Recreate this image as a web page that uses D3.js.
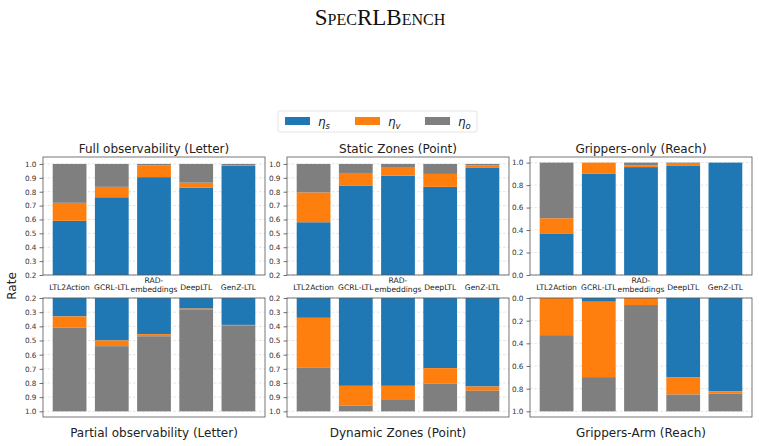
<!DOCTYPE html>
<html><head><meta charset="utf-8">
<script src="https://cdn.jsdelivr.net/npm/d3@7"></script>
<style>
body{margin:0;background:#fff;}
svg{display:block;}
</style></head>
<body>
<svg id="chart" width="759" height="446"></svg>
<script>
const categories = ["LTL2Action","GCRL-LTL","RAD-\nembeddings","DeepLTL","GenZ-LTL"];
const seriesNames = ["η_s","η_v","η_o"];
const seriesColors = ["#1f77b4","#ff7f0e","#7f7f7f"];

// Full observability (Letter)
const fullObsS = [0.59, 0.76, 0.905, 0.83, 0.985];
const fullObsV = [0.13, 0.075, 0.085, 0.035, 0.003];
const fullObsO = [0.28, 0.165, 0.01, 0.135, 0.012];
// Static Zones (Point)
const staticS = [0.58, 0.845, 0.915, 0.835, 0.975];
const staticV = [0.215, 0.09, 0.063, 0.093, 0.015];
const staticO = [0.205, 0.065, 0.022, 0.072, 0.01];
// Grippers-only (Reach)
const grippersS = [0.37, 0.90, 0.96, 0.975, 1.0];
const grippersV = [0.135, 0.10, 0.015, 0.015, 0.0];
const grippersO = [0.495, 0.0, 0.025, 0.01, 0.0];
// Partial observability (Letter)
const partialS = [0.33, 0.50, 0.455, 0.275, 0.39];
const partialV = [0.08, 0.04, 0.015, 0.005, 0.003];
const partialO = [0.59, 0.46, 0.53, 0.72, 0.607];
// Dynamic Zones (Point)
const dynamicS = [0.34, 0.82, 0.82, 0.695, 0.825];
const dynamicV = [0.35, 0.14, 0.10, 0.11, 0.03];
const dynamicO = [0.31, 0.04, 0.08, 0.195, 0.145];
// Grippers-Arm (Reach)
const armS = [0.0, 0.033, 0.0, 0.698, 0.822];
const armV = [0.328, 0.665, 0.062, 0.154, 0.021];
const armO = [0.672, 0.302, 0.938, 0.148, 0.157];

const ticksPoint1 = [0.2,0.3,0.4,0.5,0.6,0.7,0.8,0.9,1.0];
const ticksPoint2 = [0.0,0.2,0.4,0.6,0.8,1.0];

const panels = [
  {title:"Full observability (Letter)", s:fullObsS, v:fullObsV, o:fullObsO, col:0, row:0, dom:[0.2,1.05], ticks:ticksPoint1},
  {title:"Static Zones (Point)", s:staticS, v:staticV, o:staticO, col:1, row:0, dom:[0.2,1.05], ticks:ticksPoint1},
  {title:"Grippers-only (Reach)", s:grippersS, v:grippersV, o:grippersO, col:2, row:0, dom:[0.0,1.05], ticks:ticksPoint2},
  {title:"Partial observability (Letter)", s:partialS, v:partialV, o:partialO, col:0, row:1, dom:[0.2,1.04], ticks:ticksPoint1},
  {title:"Dynamic Zones (Point)", s:dynamicS, v:dynamicV, o:dynamicO, col:1, row:1, dom:[0.2,1.04], ticks:ticksPoint1},
  {title:"Grippers-Arm (Reach)", s:armS, v:armV, o:armO, col:2, row:1, dom:[0.0,1.05], ticks:ticksPoint2},
];

const svg = d3.select("#chart");
const font = "DejaVu Sans, sans-serif";
const colLeft = [43, 287, 530];
const panelW = 222;
const rowTop = [157, 298];
const panelH = [118, 119];

// Suptitle
svg.append("text").attr("x", 380).attr("y", 25).attr("text-anchor","middle")
  .attr("font-family","Liberation Serif, Times New Roman, serif").attr("font-size",23)
  .style("font-variant","small-caps").attr("fill","#111").text("SpecRLBench");

// Legend
const lg = svg.append("g");
lg.append("rect").attr("x",278).attr("y",111).attr("width",199).attr("height",21).attr("rx",2)
  .attr("fill","#fff").attr("stroke","#ddd").attr("stroke-width",0.8);
const legX = [285, 355, 425];
const subs = ["s","v","o"];
seriesColors.forEach((c,i)=>{
  lg.append("rect").attr("x",legX[i]).attr("y",117).attr("width",25).attr("height",8).attr("fill",c);
  const t = lg.append("text").attr("x",legX[i]+33).attr("y",126).attr("font-family",font)
    .attr("font-size",12).attr("font-style","italic").attr("fill","#222");
  t.append("tspan").text("η");
  t.append("tspan").attr("font-size",8.5).attr("dy",2.5).text(subs[i]);
});

// Rate label
svg.append("text").attr("transform","translate(16,286) rotate(-90)").attr("text-anchor","middle")
  .attr("font-family",font).attr("font-size",12).attr("fill","#222").text("Rate");

const x = d3.scaleBand().domain(d3.range(categories.length)).range([0, panelW]).paddingInner(0.2).paddingOuter(0.23);

panels.forEach((p,pi)=>{
  const left = colLeft[p.col], top = rowTop[p.row], h = panelH[p.row];
  const g = svg.append("g").attr("transform",`translate(${left},${top})`);
  const y = d3.scaleLinear().domain(p.dom).range(p.row===0 ? [h,0] : [0,h]);
  // grid
  g.append("g").selectAll("line").data(p.ticks).join("line")
    .attr("x1",0).attr("x2",panelW).attr("y1",d=>y(d)).attr("y2",d=>y(d))
    .attr("stroke","#d0d0d0").attr("stroke-width",0.6).attr("stroke-dasharray","2.5,2");
  // clip
  svg.append("clipPath").attr("id","clip"+pi).append("rect").attr("x",0).attr("y",0).attr("width",panelW).attr("height",h);
  const bars = g.append("g").attr("clip-path",`url(#clip${pi})`);
  categories.forEach((c,i)=>{
    const vals = [p.s[i], p.v[i], p.o[i]];
    let cum = 0;
    vals.forEach((v,k)=>{
      const a = cum, b = cum+v; cum = b;
      if (v <= 0) return;
      const y0 = y(a), y1 = y(b);
      bars.append("rect").attr("x",x(i)).attr("width",x.bandwidth())
        .attr("y",Math.min(y0,y1)).attr("height",Math.abs(y1-y0)).attr("fill",seriesColors[k]);
    });
  });
  // frame
  g.append("rect").attr("x",0).attr("y",0).attr("width",panelW).attr("height",h)
    .attr("fill","none").attr("stroke","#555").attr("stroke-width",0.8);
  // y axis
  const ax = g.append("g").call(d3.axisLeft(y).tickValues(p.ticks).tickFormat(d3.format(".1f")).tickSize(3.5).tickPadding(3));
  ax.select(".domain").remove();
  ax.selectAll("line").attr("stroke","#333").attr("stroke-width",0.7);
  ax.selectAll("text").attr("font-family",font).attr("font-size",7.3).attr("fill","#333");
  // title
  const ty = p.row===0 ? -4 : h+20;
  g.append("text").attr("x",panelW/2).attr("y",ty).attr("text-anchor","middle")
    .attr("font-family",font).attr("font-size",12).attr("fill","#222").text(p.title);
  // x labels (top row only)
  if (p.row===0){
    categories.forEach((c,i)=>{
      const lines = c.split("\n");
      const t = g.append("text").attr("text-anchor","middle").attr("font-family",font)
        .attr("font-size",7.6).attr("fill","#222");
      const cx = x(i)+x.bandwidth()/2;
      if (lines.length===1){
        t.attr("x",cx).attr("y",h+15).text(c);
      } else {
        lines.forEach((ln,j)=>{
          t.append("tspan").attr("x",cx).attr("y",h+8+j*8.8).text(ln);
        });
      }
    });
  }
});
</script>
</body></html>
